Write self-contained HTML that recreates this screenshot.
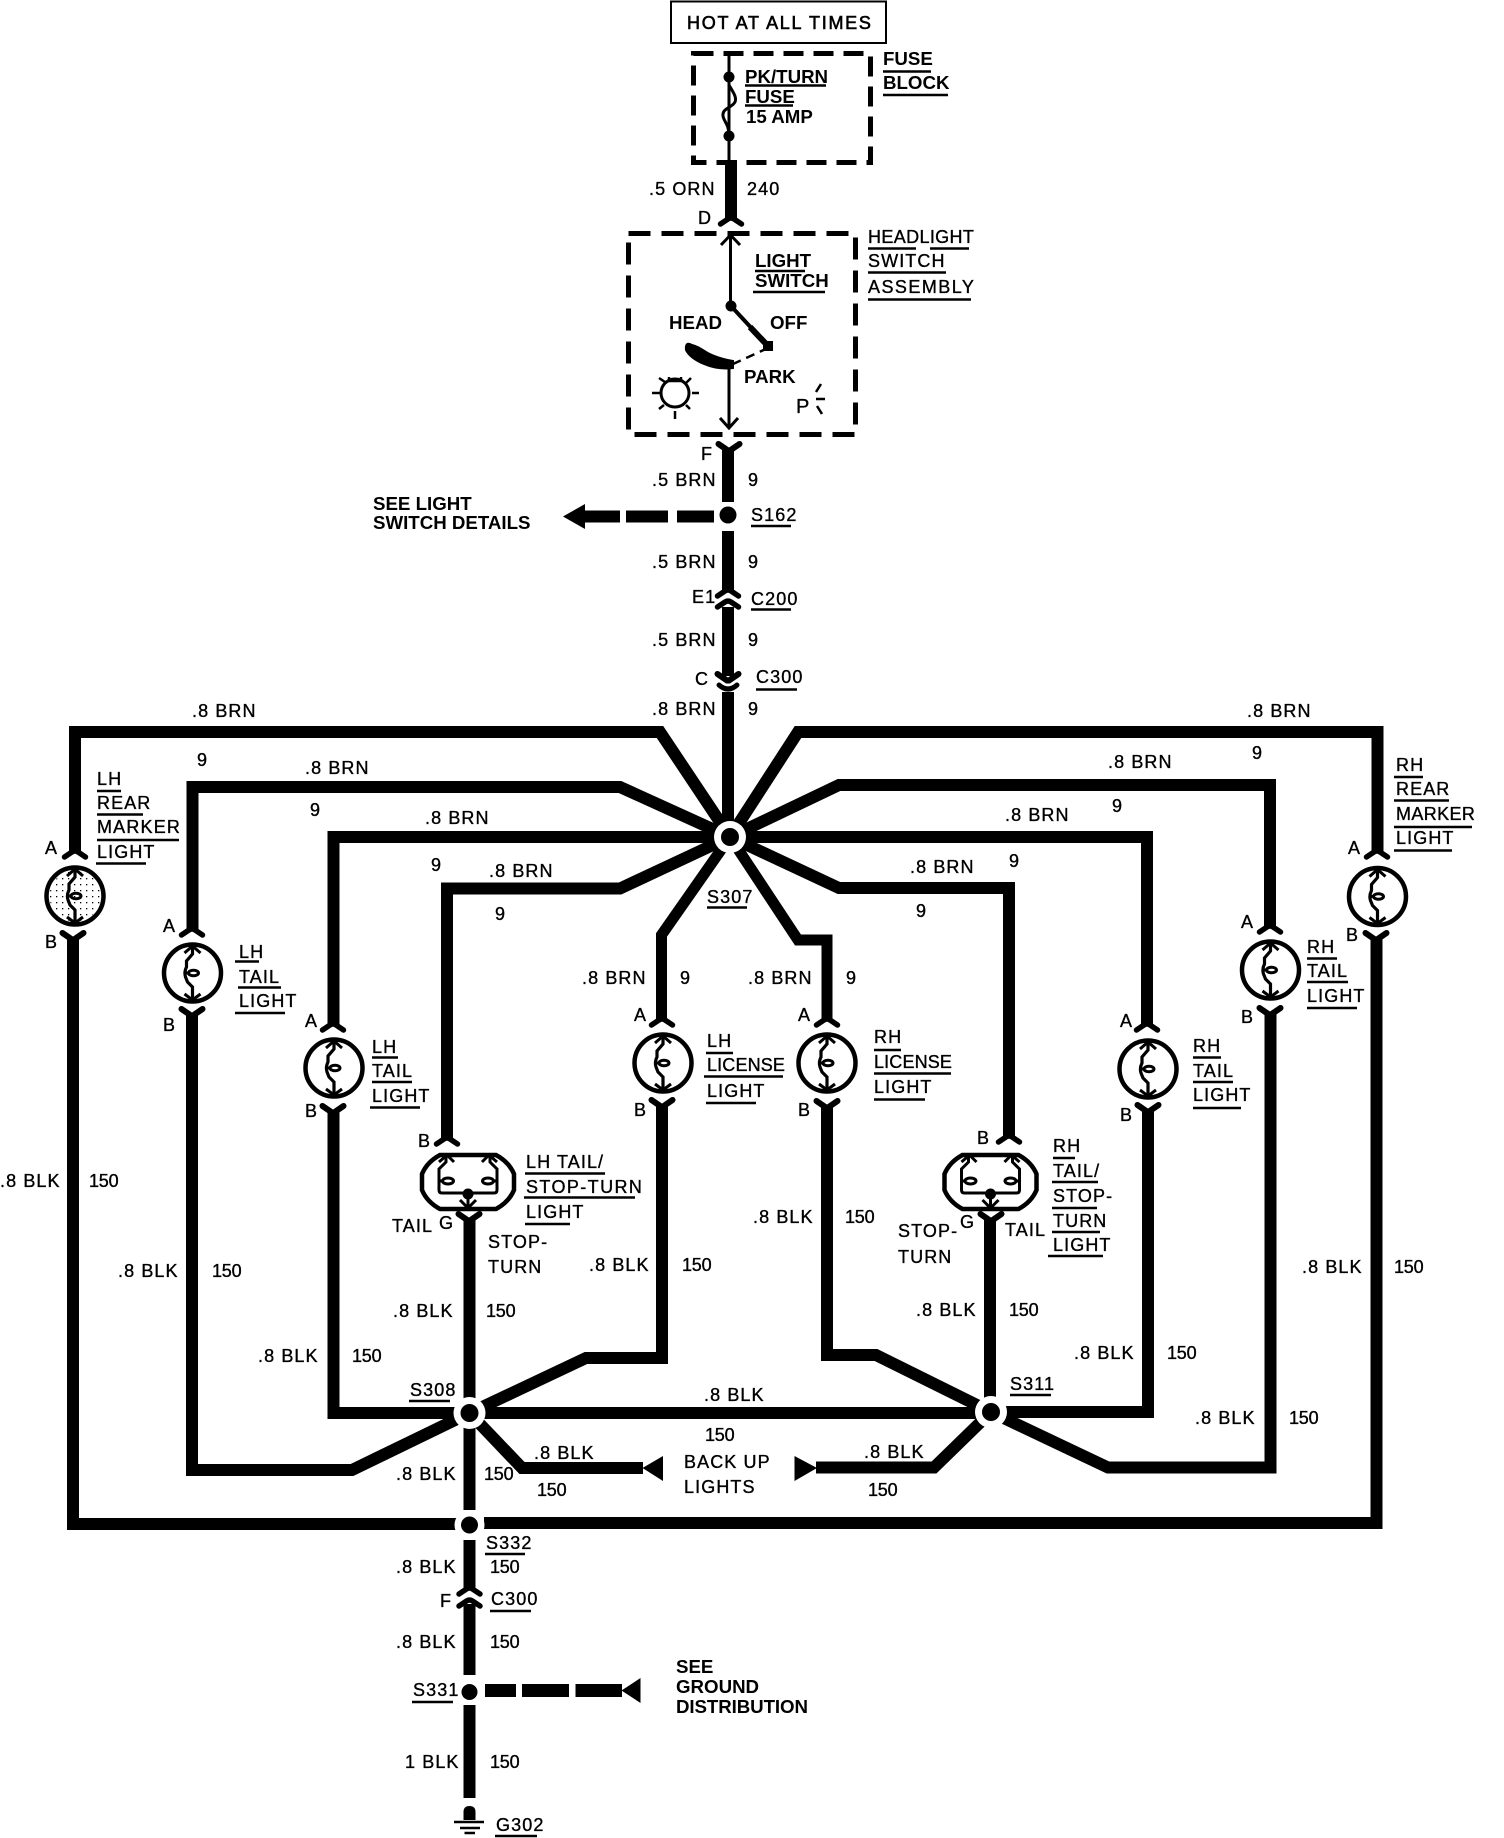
<!DOCTYPE html>
<html><head><meta charset="utf-8"><style>
html,body{margin:0;padding:0;background:#fff}
svg{display:block}
text{font-family:"Liberation Sans",sans-serif;font-size:18px;letter-spacing:1.1px;fill:#000;stroke:#000;stroke-width:.35}
text.b{font-weight:bold;font-size:18.7px;letter-spacing:0;stroke:none}
text.n{letter-spacing:-.2px}
.w{fill:none;stroke:#000;stroke-width:12;stroke-linejoin:miter}
.u{fill:none;stroke:#000;stroke-width:2.6}
</style></head><body>
<svg xmlns="http://www.w3.org/2000/svg" width="1504" height="1838" viewBox="0 0 1504 1838">
<defs>
<pattern id="st" width="6" height="6" patternUnits="userSpaceOnUse"><rect x="2" y="2" width="1.3" height="1.3"/></pattern>
<g id="lamp"><circle r="28.500" fill="#fff" stroke="#000" stroke-width="4.500"/>
<path d="M0 -27V-19L-6 -12V-6C-8 -2-8 1-7 4L-5 9L0 14V27" fill="none" stroke="#000" stroke-width="3.200"/>
<path d="M-8 -20L0 -27L8 -20M-8 21L0 27L8 21M-7 0H-3" fill="none" stroke="#000" stroke-width="3"/>
<ellipse cx="1" cy="0" rx="5" ry="2.800" fill="none" stroke="#000" stroke-width="3"/></g>
<g id="fa"><path d="M-10.500 7L-3 2Q0 0 3 2L10.500 7" fill="none" stroke="#000" stroke-width="5.500" stroke-linecap="round"/></g>
<g id="fb"><path d="M-10.500 1L-1 7.500H1L10.500 1" fill="none" stroke="#000" stroke-width="6" stroke-linecap="round"/></g>
<g id="comp"><path d="M-28 -27H28Q41 -20 46 -8V8Q41 20 28 27H-28Q-41 20-46 8V-8Q-41 -20-28 -27Z" fill="#fff" stroke="#000" stroke-width="4.500"/>
<path d="M-29 -20L-21 -27L-14 -20M-22 -26V-20L-29 -13V8Q-29 11-26 11H26Q29 11 29 8V-13L22 -20V-26M14 -20L21 -27L29 -20M-29 -1H-25M25 -1H29M-8 18L0 26L8 18M0 12V26" fill="none" stroke="#000" stroke-width="3"/>
<ellipse cx="-20" cy="-1" rx="5.500" ry="3" fill="none" stroke="#000" stroke-width="3"/>
<ellipse cx="20" cy="-1" rx="5.500" ry="3" fill="none" stroke="#000" stroke-width="3"/>
<circle cx="0" cy="12" r="5.500"/></g>
</defs>

<!-- top -->
<rect x="671" y="1.500" width="215" height="41.500" fill="none" stroke="#000" stroke-width="2"/>
<text x="687" y="29" textLength="185" style="stroke-width:.6">HOT AT ALL TIMES</text>
<rect x="693.500" y="53.500" width="177" height="109" fill="none" stroke="#000" stroke-width="5" stroke-dasharray="20 10"/>
<path d="M729 54V161" fill="none" stroke="#000" stroke-width="3"/>
<path d="M729 77V85C733 92 737 97 735 102C732 108 722 108 723 116C724 122 729 124 729 136" fill="none" stroke="#000" stroke-width="3"/>
<circle cx="729" cy="77" r="5.500"/><circle cx="729" cy="136" r="5.500"/>
<text class="b" x="745" y="83">PK/TURN</text><text class="b" x="745" y="103">FUSE</text><text class="b" x="746" y="123">15 AMP</text>
<path class="u" d="M745 85.500H826M745 105.500H793"/>
<text class="b" x="883" y="65">FUSE</text><text class="b" x="883" y="89">BLOCK</text>
<path class="u" d="M883 71.500H931M883 95H948"/>
<path class="w" d="M731 160V219"/>
<use href="#fa" x="731" y="217"/>
<text x="649" y="195">.5 ORN</text><text x="747" y="195">240</text><text x="698" y="224">D</text>

<!-- switch -->
<rect x="628.500" y="233.500" width="227" height="201" fill="none" stroke="#000" stroke-width="5" stroke-dasharray="22 11"/>
<path d="M730.500 236V306M721 245L730.500 235L740 245M729 364V428M720 418L729 428L738 418" fill="none" stroke="#000" stroke-width="3"/>
<circle cx="731" cy="306" r="5.500"/>
<path d="M731 306L768 346" stroke="#000" stroke-width="4"/>
<path d="M750 327L768 346" stroke="#000" stroke-width="6"/>
<rect x="763" y="341" width="10" height="10"/>
<path d="M768 348L733 364" fill="none" stroke="#000" stroke-width="2.500" stroke-dasharray="9 6"/>
<path d="M692 345Q685 341 686 350Q690 358 704 364Q718 370 733 368V361Q716 358 706 352Q697 346 692 345Z" stroke="#000" stroke-width="2"/>
<text class="b" x="755" y="267">LIGHT</text><text class="b" x="755" y="287">SWITCH</text>
<path class="u" d="M755 271H805M753 292H825"/>
<text class="b" x="669" y="329">HEAD</text><text class="b" x="770" y="329">OFF</text><text class="b" x="744" y="383">PARK</text>
<circle cx="675" cy="393" r="14" fill="none" stroke="#000" stroke-width="3"/>
<path d="M652 393H660M692 393H699M659 378L665 382M691 378L686 383M659 409L664 405M690 409L686 405M675 411V419M669 377V381H681V377" fill="none" stroke="#000" stroke-width="2.500"/>
<text x="796" y="413" style="font-size:20px">P</text>
<path d="M816 392L821 384M816 399H825M817 406L822 414" fill="none" stroke="#000" stroke-width="2.500"/>
<text x="868" y="243" textLength="107">HEADLIGHT</text><text x="868" y="267">SWITCH</text><text x="868" y="293" textLength="107">ASSEMBLY</text>
<path class="u" d="M868 248.500H916M930 248.500H969M868 272.500H946M868 299.500H971"/>

<!-- main trunk -->
<use href="#fb" x="729" y="443"/>
<text x="701" y="460">F</text>
<path class="w" d="M728 449V502M728 531V592M728 607V676M728 692V840"/>
<path d="M563 516.500L585 504V529Z"/>
<path d="M585 516.500H620M626 516.500H668M677 516.500H714" fill="none" stroke="#000" stroke-width="12"/>
<circle cx="728" cy="515" r="8.500"/>
<text class="b" x="373" y="510">SEE LIGHT</text><text class="b" x="373" y="529">SWITCH DETAILS</text>
<use href="#fa" x="728" y="589"/><use href="#fa" x="728" y="600"/>
<use href="#fb" x="728" y="673"/>
<path d="M719 685Q728 693 737 685" fill="none" stroke="#000" stroke-width="5" stroke-linecap="round"/>
<text x="652" y="486">.5 BRN</text><text x="748" y="486">9</text>
<text x="652" y="568">.5 BRN</text><text x="748" y="568">9</text>
<text x="652" y="646">.5 BRN</text><text x="748" y="646">9</text>
<text x="652" y="715">.8 BRN</text><text x="748" y="715">9</text>
<text x="751" y="521">S162</text><path class="u" d="M751 526H791"/>
<text x="751" y="605">C200</text><path class="u" d="M751 609.500H791"/>
<text x="692" y="603">E1</text><text x="695" y="685">C</text>
<text x="756" y="683">C300</text><path class="u" d="M756 689.500H797"/>

<!-- spokes -->
<path class="w" d="M75 851V732H660L730 837"/>
<path class="w" d="M192.500 930V787H620L730 837"/>
<path class="w" d="M333.500 1025V837H730"/>
<path class="w" d="M447 1139V888.500H620L730 837"/>
<path class="w" d="M661.500 1020V935L730 837" style="stroke-width:11"/>
<path class="w" d="M827 1020V940H798L730 837" style="stroke-width:11"/>
<path class="w" d="M1009 1137V888H839L730 837"/>
<path class="w" d="M1147 1025V837H730"/>
<path class="w" d="M1270 927V785H839L730 837"/>
<path class="w" d="M1377.500 852V732H798L730 837"/>
<circle cx="730" cy="837" r="16" fill="#fff"/><circle cx="730" cy="837" r="9"/>
<text x="707" y="903">S307</text><path class="u" d="M707 907.500H747"/>

<!-- lower wires -->
<path class="w" d="M73 938V1524H460"/>
<path class="w" d="M192 1014V1470H352L469.500 1413"/>
<path class="w" d="M333.500 1112V1413H990"/>
<path class="w" d="M469.500 1220V1510"/>
<path class="w" d="M662 1105V1358H586L469.500 1413"/>
<path class="w" d="M827 1106V1355H876L991 1412"/>
<path class="w" d="M990 1220V1412"/>
<path class="w" d="M1148 1110V1412H990"/>
<path class="w" d="M1270.500 1013V1467.500H1108L991 1412"/>
<path class="w" d="M1376.500 938V1523H484"/>
<path class="w" d="M469.500 1413L522 1468H643"/>
<path class="w" d="M991 1412L934 1467.500H816"/>
<path d="M642.500 1468L663 1456V1481Z"/><path d="M817 1468L794.500 1456V1481Z"/>
<circle cx="469.500" cy="1413" r="16" fill="#fff"/><circle cx="469.500" cy="1413" r="9"/>
<circle cx="991" cy="1412" r="16" fill="#fff"/><circle cx="991" cy="1412" r="9"/>
<circle cx="469.500" cy="1525" r="15" fill="#fff"/><circle cx="469.500" cy="1525" r="8.500"/>
<path class="w" d="M469.500 1540V1590M469.500 1604V1675M469.500 1705V1798"/>
<use href="#fa" x="469.500" y="1587"/><use href="#fa" x="469.500" y="1599"/>
<circle cx="469.500" cy="1692" r="8"/>
<path d="M485 1690.500H516M522 1690.500H569M575.500 1690.500H622" fill="none" stroke="#000" stroke-width="13"/>
<path d="M621.500 1690.500L640.500 1678V1703Z"/>
<path d="M463.500 1820V1812Q463.500 1806 469.500 1806Q475.500 1806 475.500 1812V1820Z"/>
<path d="M454 1822H484M460 1828H480M464.500 1833H475" fill="none" stroke="#000" stroke-width="2.500"/>

<!-- lamps -->
<use href="#lamp" x="75" y="896"/><circle cx="75" cy="896" r="25.500" fill="url(#st)"/><use href="#fa" x="75" y="850"/><use href="#fb" x="73" y="932"/>
<use href="#lamp" x="192.500" y="973"/><use href="#fa" x="192" y="928"/><use href="#fb" x="192" y="1008"/>
<use href="#lamp" x="334" y="1068"/><use href="#fa" x="333" y="1023"/><use href="#fb" x="333" y="1105"/>
<use href="#comp" x="468" y="1182"/><use href="#fa" x="447" y="1137"/><use href="#fb" x="469" y="1213"/>
<use href="#lamp" x="663" y="1063"/><use href="#fa" x="662" y="1018"/><use href="#fb" x="662" y="1099"/>
<use href="#lamp" x="827" y="1063"/><use href="#fa" x="827" y="1018"/><use href="#fb" x="827" y="1100"/>
<use href="#comp" x="990.500" y="1182"/><use href="#fa" x="1009" y="1135"/><use href="#fb" x="991" y="1213"/>
<use href="#lamp" x="1148" y="1069"/><use href="#fa" x="1147" y="1023"/><use href="#fb" x="1148" y="1104"/>
<use href="#lamp" x="1270.500" y="970"/><use href="#fa" x="1270" y="925"/><use href="#fb" x="1270" y="1007"/>
<use href="#lamp" x="1377.500" y="896.500"/><use href="#fa" x="1377" y="850"/><use href="#fb" x="1376" y="932"/>

<!-- brn labels -->
<text x="192" y="717">.8 BRN</text><text x="197" y="766">9</text>
<text x="305" y="774">.8 BRN</text><text x="310" y="816">9</text>
<text x="425" y="824">.8 BRN</text><text x="431" y="871">9</text>
<text x="489" y="877">.8 BRN</text><text x="495" y="920">9</text>
<text x="582" y="984">.8 BRN</text><text x="680" y="984">9</text>
<text x="748" y="984">.8 BRN</text><text x="846" y="984">9</text>
<text x="910" y="873">.8 BRN</text><text x="916" y="917">9</text>
<text x="1005" y="821">.8 BRN</text><text x="1009" y="867">9</text>
<text x="1108" y="768">.8 BRN</text><text x="1112" y="812">9</text>
<text x="1247" y="717">.8 BRN</text><text x="1252" y="759">9</text>

<!-- pin labels -->
<text x="45" y="854">A</text><text x="45" y="948">B</text>
<text x="163" y="932">A</text><text x="163" y="1031">B</text>
<text x="305" y="1027">A</text><text x="305" y="1117">B</text>
<text x="418" y="1147">B</text>
<text x="634" y="1021">A</text><text x="634" y="1116">B</text>
<text x="798" y="1021">A</text><text x="798" y="1116">B</text>
<text x="977" y="1144">B</text>
<text x="1120" y="1027">A</text><text x="1120" y="1121">B</text>
<text x="1241" y="928">A</text><text x="1241" y="1023">B</text>
<text x="1348" y="854">A</text><text x="1346" y="941">B</text>

<!-- lamp labels -->
<text x="97" y="785">LH</text><text x="97" y="809">REAR</text><text x="97" y="833" textLength="84">MARKER</text><text x="97" y="858">LIGHT</text>
<path class="u" d="M97 791H121M97 814.500H143M97 840H179M96 863.500H146"/>
<text x="239" y="958">LH</text><text x="239" y="983">TAIL</text><text x="239" y="1007">LIGHT</text>
<path class="u" d="M235 961.500H259M238 987.500H281M235 1013H285"/>
<text x="372" y="1053">LH</text><text x="372" y="1077">TAIL</text><text x="372" y="1102">LIGHT</text>
<path class="u" d="M372 1057.500H398M372 1082H412M370 1107.500H420"/>
<text x="526" y="1168">LH TAIL/</text><text x="526" y="1193" textLength="117">STOP-TURN</text><text x="526" y="1218">LIGHT</text>
<path class="u" d="M525 1173.500H605M524 1197.500H635M525 1224H570"/>
<text x="392" y="1232">TAIL</text><text x="439" y="1229">G</text>
<text x="488" y="1248">STOP-</text><text x="488" y="1273">TURN</text>
<text x="707" y="1047">LH</text><text x="707" y="1071" textLength="79">LICENSE</text><text x="707" y="1097">LIGHT</text>
<path class="u" d="M706 1053H733M704 1076.500H783M706 1103H756"/>
<text x="874" y="1043">RH</text><text x="874" y="1068" textLength="79">LICENSE</text><text x="874" y="1093">LIGHT</text>
<path class="u" d="M874 1050H901M874 1073.500H951M874 1099.500H925"/>
<text x="1053" y="1152">RH</text><text x="1053" y="1177">TAIL/</text><text x="1053" y="1202">STOP-</text><text x="1053" y="1227">TURN</text><text x="1053" y="1251">LIGHT</text>
<path class="u" d="M1053 1158H1075M1052 1182H1098M1052 1208H1097M1052 1232H1100M1048 1256H1103"/>
<text x="898" y="1237">STOP-</text><text x="898" y="1263">TURN</text><text x="960" y="1228">G</text><text x="1005" y="1236">TAIL</text>
<text x="1193" y="1052">RH</text><text x="1193" y="1077">TAIL</text><text x="1193" y="1101">LIGHT</text>
<path class="u" d="M1193 1057.500H1221M1193 1082H1233M1193 1108H1241"/>
<text x="1307" y="953">RH</text><text x="1307" y="977">TAIL</text><text x="1307" y="1002">LIGHT</text>
<path class="u" d="M1307 958.500H1337M1307 982H1348M1307 1008H1357"/>
<text x="1396" y="771">RH</text><text x="1396" y="795">REAR</text><text x="1396" y="820" textLength="80">MARKER</text><text x="1396" y="844">LIGHT</text>
<path class="u" d="M1394 777H1423M1394 800.500H1449M1394 827H1472M1394 850.500H1452"/>

<!-- blk labels -->
<text x="0" y="1187">.8 BLK</text><text class="n" x="89" y="1187">150</text>
<text x="118" y="1277">.8 BLK</text><text class="n" x="212" y="1277">150</text>
<text x="258" y="1362">.8 BLK</text><text class="n" x="352" y="1362">150</text>
<text x="393" y="1317">.8 BLK</text><text class="n" x="486" y="1317">150</text>
<text x="589" y="1271">.8 BLK</text><text class="n" x="682" y="1271">150</text>
<text x="753" y="1223">.8 BLK</text><text class="n" x="845" y="1223">150</text>
<text x="916" y="1316">.8 BLK</text><text class="n" x="1009" y="1316">150</text>
<text x="1074" y="1359">.8 BLK</text><text class="n" x="1167" y="1359">150</text>
<text x="1195" y="1424">.8 BLK</text><text class="n" x="1289" y="1424">150</text>
<text x="1302" y="1273">.8 BLK</text><text class="n" x="1394" y="1273">150</text>
<text x="410" y="1396">S308</text><path class="u" d="M409 1401H450"/>
<text x="1010" y="1390">S311</text><path class="u" d="M1010 1395H1051"/>
<text x="704" y="1401">.8 BLK</text><text class="n" x="705" y="1441">150</text>
<text x="396" y="1480">.8 BLK</text><text class="n" x="484" y="1480">150</text>
<text x="534" y="1459">.8 BLK</text><text class="n" x="537" y="1496">150</text>
<text x="864" y="1458">.8 BLK</text><text class="n" x="868" y="1496">150</text>
<text x="684" y="1468">BACK UP</text><text x="684" y="1493">LIGHTS</text>
<text x="486" y="1549">S332</text><path class="u" d="M485 1554H525"/>
<text x="396" y="1573">.8 BLK</text><text class="n" x="490" y="1573">150</text>
<text x="440" y="1607">F</text><text x="491" y="1605">C300</text><path class="u" d="M490 1611H531"/>
<text x="396" y="1648">.8 BLK</text><text class="n" x="490" y="1648">150</text>
<text x="413" y="1696">S331</text><path class="u" d="M412 1702H453"/>
<text class="b" x="676" y="1673">SEE</text><text class="b" x="676" y="1693">GROUND</text><text class="b" x="676" y="1713" textLength="132">DISTRIBUTION</text>
<text x="405" y="1768">1 BLK</text><text class="n" x="490" y="1768">150</text>
<text x="496" y="1831">G302</text><path class="u" d="M495 1836H537"/>
</svg>
</body></html>
